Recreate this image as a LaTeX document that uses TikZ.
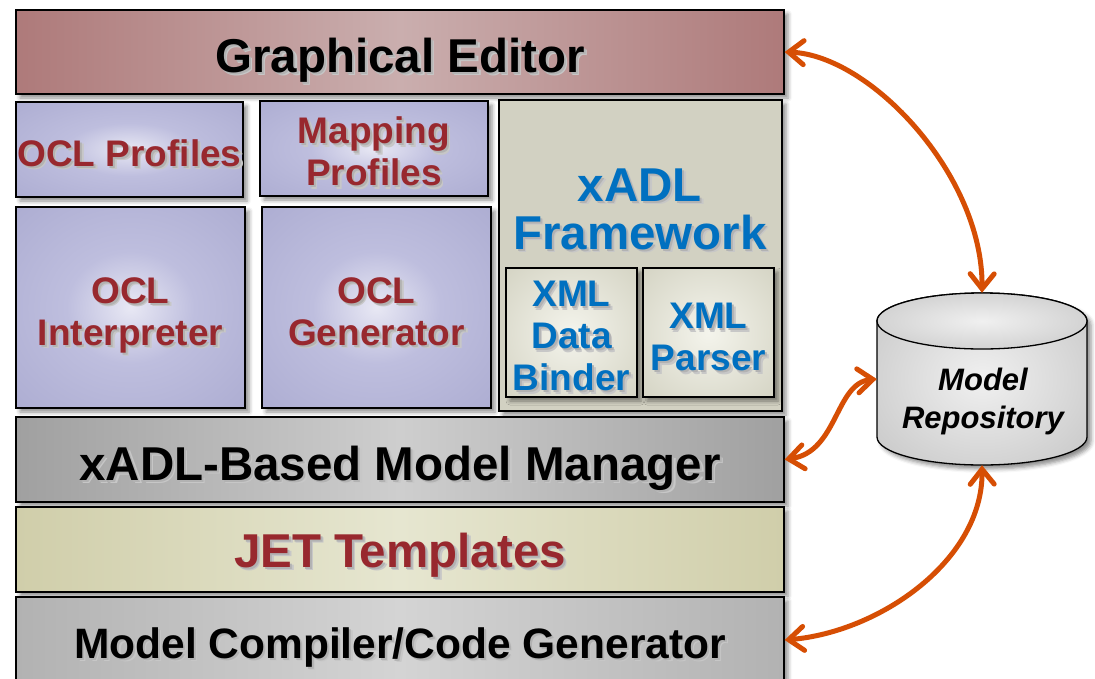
\documentclass[tikz,border=0pt]{standalone}
\usepackage{fontspec}
\setmainfont{Liberation Sans}
\usetikzlibrary{arrows.meta,shadows.blur}

% palette
\definecolor{edgeRose}{RGB}{174,122,122}
\definecolor{midRose}{RGB}{202,174,174}
\definecolor{lavOut}{RGB}{166,166,205}
\definecolor{lavMid}{RGB}{190,190,222}
\definecolor{lavIn}{RGB}{232,232,244}
\definecolor{fwBeige}{RGB}{210,209,194}
\definecolor{xmlOut}{RGB}{200,199,180}
\definecolor{xmlIn}{RGB}{244,244,236}
\definecolor{mgrEdge}{RGB}{160,160,160}
\definecolor{mgrMid}{RGB}{206,206,206}
\definecolor{jetEdge}{RGB}{208,206,170}
\definecolor{jetMid}{RGB}{230,230,208}
\definecolor{cmpEdge}{RGB}{178,178,178}
\definecolor{cmpMid}{RGB}{212,212,212}
\definecolor{cylOut}{RGB}{182,182,182}
\definecolor{cylIn}{RGB}{240,240,240}
\definecolor{labelRed}{RGB}{152,40,46}
\definecolor{labelBlue}{RGB}{0,112,192}
\definecolor{linkOrange}{RGB}{214,78,4}

% soft centre glows
\pgfdeclareradialshading{glowLav}{\pgfpoint{0bp}{0bp}}{color(0bp)=(lavIn); color(14bp)=(lavMid); color(45bp)=(lavOut); color(75bp)=(lavOut)}
\pgfdeclareradialshading{glowXml}{\pgfpoint{0bp}{0bp}}{color(0bp)=(xmlIn); color(50bp)=(xmlOut); color(75bp)=(xmlOut)}
\pgfdeclareradialshading{glowCyl}{\pgfpoint{0bp}{0bp}}{color(0bp)=(cylIn); color(50bp)=(cylOut); color(75bp)=(cylOut)}

% fonts
\newcommand\fbig{\fontsize{47.5}{48}\selectfont\bfseries}
\newcommand\fcomp{\fontsize{42.5}{48}\selectfont\bfseries}
\newcommand\fmid{\fontsize{37}{42}\selectfont\bfseries}
\newcommand\frepo{\fontsize{31}{38}\selectfont\bfseries\itshape}

% text with a soft grey shadow below right (two faint layers)
\newcommand\sh[1]{\leavevmode
  \rlap{\kern3.5pt\raisebox{-3.5pt}{\textcolor{black!22}{#1}}}%
  \rlap{\kern2pt\raisebox{-2pt}{\textcolor{black!30}{#1}}}#1}

\tikzset{
  box/.style={draw=black, line width=1.3pt, inner sep=0pt, align=center, text depth=0pt,
    blur shadow={shadow xshift=4pt, shadow yshift=-4pt, shadow blur radius=4pt, shadow opacity=45}},
  bar/.style={box, minimum width=768pt, minimum height=85pt, font=\fbig},
  small/.style={box, shading=glowLav, text=labelRed, font=\fmid},
  xmlbox/.style={box, shading=glowXml, text=labelBlue, font=\fmid, minimum width=131pt, minimum height=129pt},
  link/.style={draw=linkOrange, line width=5pt, line cap=round,
    {Straight Barb[length=15pt,width=24pt,line cap=round]}-{Straight Barb[length=15pt,width=24pt,line cap=round]}},
}

\begin{document}
\begin{tikzpicture}[x=1pt, y=-1pt]
\useasboundingbox (0,0) rectangle (1095,678);
\clip (0,0) rectangle (1095,678);

% layered stack
\node[bar, minimum height=84pt, text height=40pt, left color=edgeRose, right color=edgeRose, middle color=midRose]
  (editor) at (400,52) {\sh{Graphical Editor}};

\node[small, text height=33pt, minimum width=227pt, minimum height=95pt] (oclprof) at (129.5,149.5) {\sh{OCL Profiles}};
\node[small, text height=74pt, minimum width=228pt, minimum height=95pt] (mapprof) at (374,148.5) {\sh{Mapping}\\\sh{Profiles}};
\node[small, text height=75pt, minimum width=229pt, minimum height=201pt] (oclint) at (130.5,307.5) {\sh{OCL}\\\sh{Interpreter}};
\node[small, text height=75pt, minimum width=229pt, minimum height=201pt] (oclgen) at (376.5,307.5) {\sh{OCL}\\\sh{Generator}};

\node[box, fill=fwBeige, minimum width=283pt, minimum height=311pt] (xadl) at (640.5,255.5) {};
\node[text=labelBlue, align=center, inner sep=0pt, font=\fbig] (xadltext) at (640,211) {\sh{xADL}\\\sh{Framework}};
\node[xmlbox, text height=116pt] (binder) at (571.5,332.5) {\sh{XML}\\\sh{Data}\\\sh{Binder}};
\node[xmlbox, text height=76pt] (parser) at (708.5,332.5) {\sh{XML}\\\sh{Parser}};

\node[bar, text height=41pt, left color=mgrEdge, right color=mgrEdge, middle color=mgrMid]
  (manager) at (400,459.5) {\sh{xADL-Based Model Manager}};
\node[bar, text height=35pt, left color=jetEdge, right color=jetEdge, middle color=jetMid, text=labelRed]
  (jet) at (400,549.5) {\sh{JET Templates}};
\node[bar, minimum height=86pt, font=\fcomp, text height=36pt, left color=cmpEdge, right color=cmpEdge, middle color=cmpMid]
  (compiler) at (400,640) {\sh{Model Compiler/Code Generator}};

% repository cylinder
\path[draw=black, line width=1.3pt, shading=glowCyl,
  blur shadow={shadow xshift=4pt, shadow yshift=-4pt, shadow blur radius=4pt, shadow opacity=45}]
  (877,321) -- (877,437) arc[start angle=180, end angle=0, x radius=105, y radius=28]
  -- (1087,321) arc[start angle=0, end angle=-180, x radius=105, y radius=28] -- cycle;
\path[draw=black, line width=1.3pt, shading=glowCyl] (982,321) ellipse [x radius=105, y radius=28];
\node[minimum width=210pt, minimum height=172pt, inner sep=0pt] (repo) at (982,379) {};
\node[align=center, inner sep=0pt, font=\frepo] (repotext) at (983,401.5) {Model\\Repository};

% data flow to and from the repository
\draw[link] (editor.east) .. controls (870,55) and (983,175) .. (repo.north);
\draw[link] (repo.west) .. controls (835,383) and (838,452) .. (manager.east);
\draw[link] (repo.south) .. controls (983,560) and (880,632) .. (compiler.east);
\end{tikzpicture}
\end{document}
